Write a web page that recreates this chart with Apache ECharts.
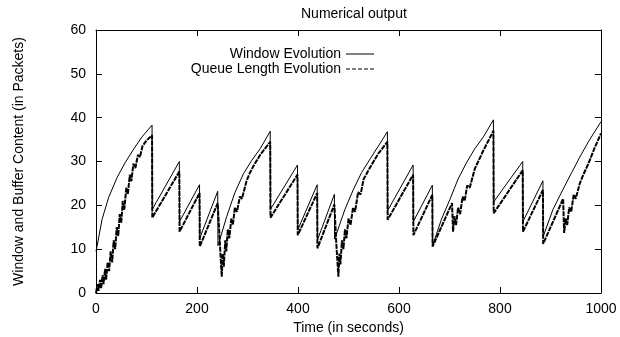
<!DOCTYPE html>
<html>
<head>
<meta charset="utf-8">
<script src="https://cdn.jsdelivr.net/npm/echarts@6/dist/echarts.min.js"></script>
<style>
html,body{margin:0;padding:0;background:#fff;}
#chart{width:620px;height:337px;background:#fff;}
</style>
</head>
<body>
<div id="chart"></div>
<script>
const titleText = 'Numerical output';
const xName = 'Time (in seconds)';
const yName = 'Window and Buffer Content (in Packets)';
const xTicks = [0, 200, 400, 600, 800, 1000];
const yTicks = [0, 10, 20, 30, 40, 50, 60];

const windowEvolution = [
  [0,9.5],[2,10.6],[12,16.8],[25,21.8],[42,26.4],[58,29.8],[75,32.9],[91,35.6],[111,38.3],
  [111.5,19.1],[165,30],
  [165.5,16.3],[205,24.7],
  [205.5,12.5],[241,23.2],
  [241.5,10.8],[259,17.5],[275,22.9],[292,27.2],[308,30.2],[325,32.9],[345,36.9],
  [345.5,19.1],[399,29.2],
  [399.5,14.4],[438,24.7],
  [438.5,12.1],[472,22.5],
  [472.5,12.3],[493,19.1],[510,23.7],[526,27.5],[543,30.6],[559,33.5],[577,36.8],
  [577.5,18.8],[628,29.2],
  [628.5,16.3],[666,24.6],
  [666.5,10.8],[684,16.8],[701,21.4],[717,26],[734,29.8],[750,32.9],[767,35.6],[787,39.5],
  [787.5,20.8],[845,30],
  [845.5,16.3],[885,25.6],
  [885.5,12.9],[905,19.1],[925,23.7],[942,27.5],[958,31],[975,34.5],[1000,39.1]
];

const queueEvolution = [
  [0,0],[3,2],[5,0.5],[8,3],[10,1],[13,4],[15,2],[18,5.5],[20,3],[23,7],[26,5],[29,9.5],[32,7],
  [35,12],[38,10],[41,15],[44,13],[47,18],[50,16],[53,21],[56,19],[60,24],[63,22.5],[67,27],
  [70,25.5],[74,29.5],[78,28.5],[83,31.5],[87,31],[92,33.5],[100,34.8],[111,36],
  [111.5,17.2],[165,27.7],
  [165.5,14],[205,22.8],
  [205.5,10.6],[241,20.5],
  [245,12],[249,3.7],[251,9],[253,6],[256,12],[258,9.5],[261,14.5],[264,12.5],[268,17],[271,15.5],
  [275,19.5],[279,18.5],[285,22],[289,21.5],[298,25.5],[305,27.5],[312,29],[325,31.5],[345,34.5],
  [345.5,17.2],[399,27],
  [399.5,13.2],[438,22.8],
  [438.5,10.2],[472,20.2],
  [476,11],[480,3.7],[482,9],[484,6.5],[487,12],[490,10],[493,14.5],[496,12.5],[500,17],[504,15.5],
  [509,19.5],[513,18.5],[519,23],[524,22.5],[530,26],[543,28.7],[559,31.8],[577,34.5],
  [577.5,16.7],[628,27],
  [628.5,13.2],[666,22.4],
  [666.5,10.6],[705,20.5],
  [707,14],[710,17.5],[713,15.5],[717,19.5],[721,18],[726,22],[730,21],[735,24.5],[740,24],
  [750,28.3],[767,32.5],[787,37],
  [787.5,18.2],[845,28],
  [845.5,14],[885,23.5],
  [885.5,11.2],[925,21.5],
  [927,13.7],[930,17],[933,15.5],[937,19.5],[941,18.5],[946,22.5],[950,21.5],[958,25],[965,27],
  [975,29.5],[987,33],[1000,36.4]
];

const FONT = 'Liberation Sans, Arial, Helvetica, sans-serif';
const chart = echarts.init(document.getElementById('chart'));

const xMin = xTicks[0], xMax = xTicks[xTicks.length - 1], xStep = xTicks[1] - xTicks[0];
const yMin = yTicks[0], yMax = yTicks[yTicks.length - 1], yStep = yTicks[1] - yTicks[0];

function axisCommon() {
  return {
    show: true,
    axisLine: {show: true, onZero: false, lineStyle: {color: '#000', width: 1}},
    axisTick: {show: true, inside: true, length: 6, lineStyle: {color: '#000', width: 1}},
    splitLine: {show: false}
  };
}

const solidIcon = 'path://M0,0h28v1h-28z';
const dashIcon = 'path://M0,0h4v1h-4z M6,0h4v1h-4z M12,0h4v1h-4z M18,0h4v1h-4z M24,0h4v1h-4z';
const legendText = {fontFamily: FONT, fontSize: 14, color: '#000'};

chart.setOption({
  animation: false,
  title: {
    text: titleText,
    left: 296, top: 2,
    textStyle: {fontFamily: FONT, fontSize: 14, fontWeight: 'normal', color: '#000'}
  },
  grid: {left: 96, right: 19, top: 30, bottom: 44, outerBoundsMode: 'none'},
  legend: [
    {
      data: [{name: 'Window Evolution', icon: solidIcon}],
      right: 241, top: 42, align: 'right', orient: 'vertical',
      itemWidth: 28, itemHeight: 1.2,
      itemStyle: {color: '#000', borderWidth: 0},
      textStyle: legendText
    },
    {
      data: [{name: 'Queue Length Evolution', icon: dashIcon}],
      right: 241, top: 57, align: 'right', orient: 'vertical',
      itemWidth: 28, itemHeight: 1.2,
      itemStyle: {color: '#000', borderWidth: 0},
      textStyle: legendText
    }
  ],
  xAxis: [
    Object.assign(axisCommon(), {
      type: 'value', min: xMin, max: xMax, interval: xStep, position: 'bottom',
      name: xName, nameLocation: 'middle', nameGap: 24,
      nameTextStyle: {fontFamily: FONT, fontSize: 14, color: '#000'},
      axisLabel: {fontFamily: FONT, fontSize: 14, color: '#000', margin: 9,
        formatter: function (v) { return String(v); }}
    }),
    Object.assign(axisCommon(), {
      type: 'value', min: xMin, max: xMax, interval: xStep, position: 'top',
      axisLabel: {show: false}
    })
  ],
  yAxis: [
    Object.assign(axisCommon(), {
      type: 'value', min: yMin, max: yMax, interval: yStep, position: 'left',
      name: yName, nameLocation: 'middle', nameGap: 70, nameRotate: 90,
      nameTextStyle: {fontFamily: FONT, fontSize: 14, color: '#000'},
      axisLabel: {fontFamily: FONT, fontSize: 14, color: '#000', margin: 10}
    }),
    Object.assign(axisCommon(), {
      type: 'value', min: yMin, max: yMax, interval: yStep, position: 'right',
      axisLabel: {show: false}
    })
  ],
  series: [
    {
      name: 'Window Evolution', type: 'line', data: windowEvolution,
      xAxisIndex: 0, yAxisIndex: 0,
      symbol: 'none', showSymbol: false,
      lineStyle: {color: '#000', width: 1},
      itemStyle: {color: '#000'},
      markLine: {
        silent: true, symbol: 'none', animation: false,
        label: {show: false},
        lineStyle: {color: '#000', width: 1, type: 'solid'},
        emphasis: {disabled: true},
        data: [{yAxis: yMax}, {xAxis: xMax}]
      }
    },
    {
      name: 'Queue Length Evolution', type: 'line', data: queueEvolution,
      xAxisIndex: 0, yAxisIndex: 0,
      symbol: 'none', showSymbol: false,
      lineStyle: {color: '#000', width: 2, type: [5, 1]},
      itemStyle: {color: '#000'}
    }
  ]
});
</script>
</body>
</html>
